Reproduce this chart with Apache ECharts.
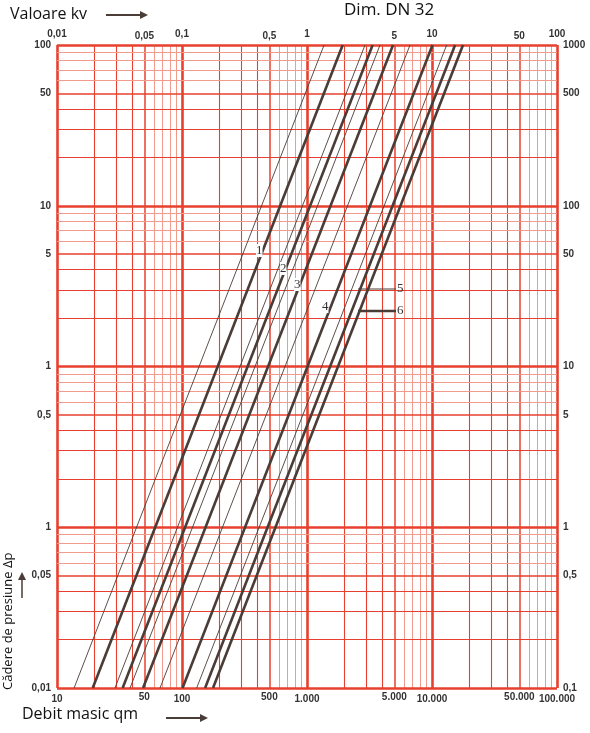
<!DOCTYPE html>
<html><head><meta charset="utf-8">
<script src="https://cdn.jsdelivr.net/npm/echarts@6/dist/echarts.min.js"></script>
<style>body{margin:0;background:#fff}#c{width:590px;height:733px}</style>
</head><body><div id="c"></div>
<script>
// qm (kg/h) at which each curve crosses Δp = 0.01; curve follows Δp ∝ qm²
const thinStarts = [13.7, 29.1, 38.4, 66.7, 131];
const thickStarts = [19.3, 33.5, 48.8, 101, 153, 177];
const dpMin = 0.01, dpMax = 100;
const xDecades = [10, 100, 1000, 10000];
const yDecades = [0.01, 0.1, 1, 10];
const xMainLabels = {10:'10',100:'100',1000:'1.000',10000:'10.000',100000:'100.000'};
const xHalfLabels = [[50,'50'],[500,'500'],[5000,'5.000'],[50000,'50.000']];
const kvMainLabels = {0.01:'0,01',0.1:'0,1',1:'1',10:'10',100:'100'};
const kvHalfLabels = [[50,'0,05'],[500,'0,5'],[5000,'5'],[50000,'50']];
const yLeftMain = {0.01:'0,01',0.1:'1',1:'1',10:'10',100:'100'};
const yLeftHalf = [[0.05,'0,05'],[0.5,'0,5'],[5,'5'],[50,'50']];
const yRightMain = {0.1:'0,1',1:'1',10:'10',100:'100',1000:'1000'};
const yRightHalf = [[0.05,'0,5'],[0.5,'5'],[5,'50'],[50,'500']];
const curveLabels = [['1',260,251],['2',284,269],['3',298,285],['4',326,307]];

const RED='#e8402e', LRED='#f29a8c';
function styleFor(m){
  if(m===1) return {color:RED,width:2.6,type:'solid'};
  if(m===5) return {color:RED,width:1.5,type:'solid'};
  if(m<=4) return {color:RED,width:1.1,type:'solid'};
  return {color:LRED,width:1,type:'solid'};
}
const gx=[],gy=[];
xDecades.forEach(d=>{for(let m=1;m<=9;m++)gx.push({xAxis:m*d,lineStyle:styleFor(m)});});
gx.push({xAxis:100000,lineStyle:styleFor(1)});
yDecades.forEach(d=>{for(let m=1;m<=9;m++)gy.push({yAxis:m*d,lineStyle:styleFor(m)});});
gy.push({yAxis:100,lineStyle:styleFor(1)});

const lblFont={fontFamily:'Liberation Sans',fontWeight:'bold',fontSize:10,color:'#333'};
function ml(data,extra){return Object.assign({symbol:'none',silent:true,label:{show:false},data:data},extra||{});}
const series=[
 {type:'line',data:[],markLine:ml(gx.concat(gy)),z:1},
 {type:'line',data:[],markLine:ml(xHalfLabels.map(([v,t])=>({xAxis:v,lineStyle:{width:0},label:{show:true,position:'start',formatter:t,distance:4,...lblFont}})))},
 {type:'line',data:[],markLine:ml(kvHalfLabels.map(([v,t])=>({xAxis:v,lineStyle:{width:0},label:{show:true,position:'end',formatter:t,distance:4,...lblFont}})))},
 {type:'line',data:[],markLine:ml(yLeftHalf.map(([v,t])=>({yAxis:v,lineStyle:{width:0},label:{show:true,position:'start',formatter:t,distance:6,...lblFont}})))},
 {type:'line',data:[],markLine:ml(yRightHalf.map(([v,t])=>({yAxis:v,lineStyle:{width:0},label:{show:true,position:'end',formatter:t,distance:6,...lblFont}})))}
];
thinStarts.forEach(q=>series.push({type:'line',symbol:'none',silent:true,z:5,data:[[q,dpMin],[q*100,dpMax]],lineStyle:{color:'#4a3c36',width:0.9}}));
thickStarts.forEach(q=>series.push({type:'line',symbol:'none',silent:true,z:5,data:[[q,dpMin],[q*100,dpMax]],lineStyle:{color:'#4a3c36',width:2.6}}));

function fmt(map){return v=>{for(const k in map){if(Math.abs(Math.log10(v)-Math.log10(+k))<1e-6)return map[k];}return '';};}
const ch=echarts.init(document.getElementById('c'));
ch.setOption({
 animation:false,
 grid:{left:57,right:33,top:45,bottom:45},
 xAxis:[
  {type:'log',min:10,max:100000,logBase:10,position:'bottom',axisLine:{show:false},axisTick:{show:false},splitLine:{show:false},axisLabel:{formatter:fmt(xMainLabels),margin:6,...lblFont}},
  {type:'log',min:0.01,max:100,logBase:10,position:'top',axisLine:{show:false},axisTick:{show:false},splitLine:{show:false},axisLabel:{formatter:fmt(kvMainLabels),margin:6,...lblFont}}
 ],
 yAxis:[
  {type:'log',min:0.01,max:100,logBase:10,position:'left',axisLine:{show:false},axisTick:{show:false},splitLine:{show:false},axisLabel:{formatter:fmt(yLeftMain),margin:6,...lblFont}},
  {type:'log',min:0.1,max:1000,logBase:10,position:'right',axisLine:{show:false},axisTick:{show:false},splitLine:{show:false},axisLabel:{formatter:fmt(yRightMain),margin:6,...lblFont}}
 ],
 series:series,
 graphic:[
  {type:'text',left:10,top:6,style:{text:'Valoare kv',font:'16px "Open Sans"',fill:'#111'}},
  {type:'line',shape:{x1:106,y1:15,x2:140,y2:15},style:{stroke:'#4a3c36',lineWidth:2}},
  {type:'polygon',shape:{points:[[140,11],[148,15],[140,19]]},style:{fill:'#4a3c36'}},
  {type:'text',left:344,top:2,style:{text:'Dim. DN 32',font:'17px "Open Sans"',fill:'#111'}},
  {type:'text',left:22,top:706,style:{text:'Debit masic qm',font:'16px "Open Sans"',fill:'#111'}},
  {type:'line',shape:{x1:166,y1:718,x2:200,y2:718},style:{stroke:'#4a3c36',lineWidth:2}},
  {type:'polygon',shape:{points:[[200,714],[208,718],[200,722]]},style:{fill:'#4a3c36'}},
  {type:'text',x:2,y:690,rotation:Math.PI/2,style:{text:'Cădere de presiune Δp',font:'13px "Open Sans"',fill:'#111'}},
  {type:'line',shape:{x1:22,y1:598,x2:22,y2:578},style:{stroke:'#4a3c36',lineWidth:1.5}},
  {type:'polygon',shape:{points:[[18,580],[22,572],[26,580]]},style:{fill:'#4a3c36'}},
  ...curveLabels.map(([t,x,y])=>({type:'text',x:x-4,y:y-7,z:10,style:{text:t,font:'13px "Liberation Serif"',fill:'#333',backgroundColor:'#fff'}})),
  {type:'line',z:10,shape:{x1:358,y1:289,x2:396,y2:289},style:{stroke:'#4a3c36',lineWidth:1}},
  {type:'line',z:10,shape:{x1:358,y1:311,x2:396,y2:311},style:{stroke:'#4a3c36',lineWidth:2.6}},
  {type:'text',x:397,y:282,z:10,style:{text:'5',font:'13px "Liberation Serif"',fill:'#333'}},
  {type:'text',x:397,y:304,z:10,style:{text:'6',font:'13px "Liberation Serif"',fill:'#333'}}
 ]
});
</script></body></html>
